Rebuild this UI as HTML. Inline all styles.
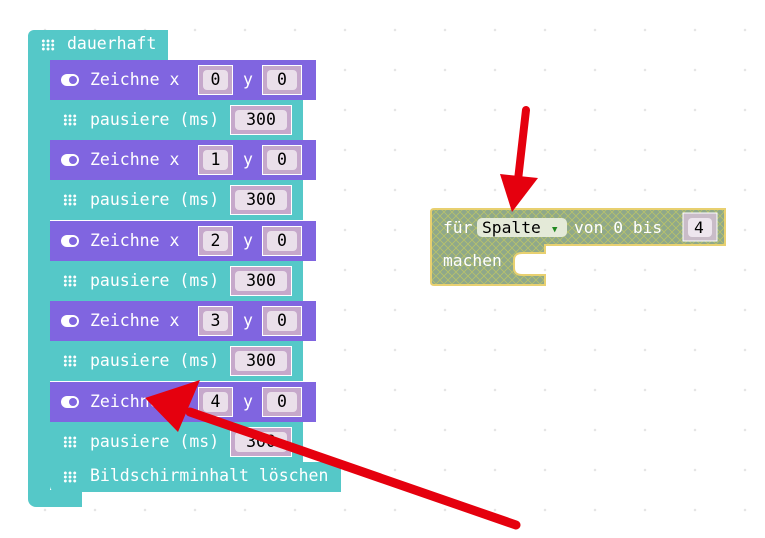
<!DOCTYPE html>
<html><head><meta charset="utf-8"><style>
body{margin:0;width:765px;height:538px;overflow:hidden;background:#fff;position:relative;font-family:"DejaVu Sans Mono","Liberation Mono",monospace;font-size:16.5px;color:#fff}
.a{position:absolute}
.p{background:#8065e0}
.t{background:#55c8c8}
.row{position:absolute;height:40px;line-height:40px}
.in{position:absolute;top:5px;height:30px;background:#c6a8cb;border:1px solid #fff;box-sizing:border-box}
.in span{position:absolute;left:4px;right:4px;top:4px;height:20px;line-height:20px;background:#eadfea;border-radius:4px;color:#000;text-align:center}
.ic{position:absolute;left:13px;top:14px;width:14px;height:12px;background-image:radial-gradient(circle,#fff 1.3px,transparent 1.6px);background-size:4.7px 4px}
.tg{position:absolute;left:11px;top:14px;width:18px;height:12px;border-radius:6px;background:#fff}
.tg:after{content:"";position:absolute;right:2px;top:2px;width:8px;height:8px;border-radius:50%;background:#8065e0}
.grid{position:absolute;left:0;top:0;width:765px;height:538px;background-image:radial-gradient(circle,#e4e4e4 1px,transparent 1.5px);background-size:50px 40px;background-position:20px 10px}
</style></head><body>
<div class="grid"></div>
<div class="a t" style="left:28px;top:30px;width:140px;height:30px;border-radius:6px 0 0 0;line-height:28px"><span style="position:absolute;left:39px">dauerhaft</span><div class="ic" style="top:9px"></div></div>
<div class="a t" style="left:28px;top:58px;width:22px;height:440px"></div>
<div class="a t" style="left:28px;top:490px;width:54px;height:17px;border-radius:0 0 0 8px"></div>

<div class="row p" style="left:50px;top:60px;width:266px"><span class="a" style="left:40px">Zeichne x</span><span class="a" style="left:193px">y</span><div class="in" style="left:148px;width:35px"><span>0</span></div><div class="in" style="left:212px;width:40px"><span>0</span></div><div class="tg"></div></div>
<div class="row t" style="left:50px;top:100px;width:253px"><span class="a" style="left:40px">pausiere (ms)</span><div class="in" style="left:180px;width:62px"><span>300</span></div><div class="ic"></div></div>
<div class="row p" style="left:50px;top:140px;width:266px"><span class="a" style="left:40px">Zeichne x</span><span class="a" style="left:193px">y</span><div class="in" style="left:148px;width:35px"><span>1</span></div><div class="in" style="left:212px;width:40px"><span>0</span></div><div class="tg"></div></div>
<div class="row t" style="left:50px;top:180px;width:253px"><span class="a" style="left:40px">pausiere (ms)</span><div class="in" style="left:180px;width:62px"><span>300</span></div><div class="ic"></div></div>
<div class="row p" style="left:50px;top:221px;width:266px"><span class="a" style="left:40px">Zeichne x</span><span class="a" style="left:193px">y</span><div class="in" style="left:148px;width:35px"><span>2</span></div><div class="in" style="left:212px;width:40px"><span>0</span></div><div class="tg"></div></div>
<div class="row t" style="left:50px;top:261px;width:253px"><span class="a" style="left:40px">pausiere (ms)</span><div class="in" style="left:180px;width:62px"><span>300</span></div><div class="ic"></div></div>
<div class="row p" style="left:50px;top:301px;width:266px"><span class="a" style="left:40px">Zeichne x</span><span class="a" style="left:193px">y</span><div class="in" style="left:148px;width:35px"><span>3</span></div><div class="in" style="left:212px;width:40px"><span>0</span></div><div class="tg"></div></div>
<div class="row t" style="left:50px;top:341px;width:253px"><span class="a" style="left:40px">pausiere (ms)</span><div class="in" style="left:180px;width:62px"><span>300</span></div><div class="ic"></div></div>
<div class="row p" style="left:50px;top:382px;width:266px"><span class="a" style="left:40px">Zeichne x</span><span class="a" style="left:193px">y</span><div class="in" style="left:148px;width:35px"><span>4</span></div><div class="in" style="left:212px;width:40px"><span>0</span></div><div class="tg"></div></div>
<div class="row t" style="left:50px;top:422px;width:253px"><span class="a" style="left:40px">pausiere (ms)</span><div class="in" style="left:180px;width:62px"><span>300</span></div><div class="ic"></div></div>
<div class="row t" style="left:50px;top:462px;width:291px;height:30px;line-height:28px;border-bottom-left-radius:6px"><span class="a" style="left:40px">Bildschirminhalt löschen</span><div class="ic" style="top:9px"></div></div>

<svg class="a" style="left:0;top:0" width="765" height="538">
<defs><pattern id="h" width="8" height="8" patternUnits="userSpaceOnUse"><rect width="8" height="8" fill="#8fa88a"/><path d="M0 0L8 8M8 0L0 8" stroke="#b8c36a" stroke-width="0.8"/></pattern></defs>
<path d="M434 209H725V245H545V253H522Q514 253 514 260V268Q514 275 522 275H545V285H434Q431 285 431 282V212Q431 209 434 209Z" fill="url(#h)" stroke="#e8d070" stroke-width="2"/>
<rect x="683" y="213" width="34" height="28" fill="#c9bcc8" stroke="#fff"/>
<rect x="688" y="218" width="24" height="19" rx="4" fill="#eee6ee"/>
<rect x="477" y="218" width="90" height="19" rx="5" fill="#e4ead8"/>
<g font-family="DejaVu Sans Mono" font-size="16.3">
<text x="443" y="233" fill="#fff">für</text>
<text x="482" y="233" fill="#000">Spalte</text>
<text x="574" y="233" fill="#fff">von 0 bis</text>
<text x="694" y="233" fill="#000">4</text>
<text x="443" y="266" fill="#fff">machen</text>
</g>
<text x="552" y="232" fill="#228822" font-size="9">▼</text>
<line x1="526" y1="110" x2="518" y2="180" stroke="#e5000e" stroke-width="8" stroke-linecap="round"/>
<polygon points="500,174 538,178 512,212" fill="#e5000e"/>
<line x1="516" y1="525" x2="190" y2="412" stroke="#e5000e" stroke-width="9" stroke-linecap="round"/>
<polygon points="145,398 200,380 178,432" fill="#e5000e"/>
</svg>
</body></html>
